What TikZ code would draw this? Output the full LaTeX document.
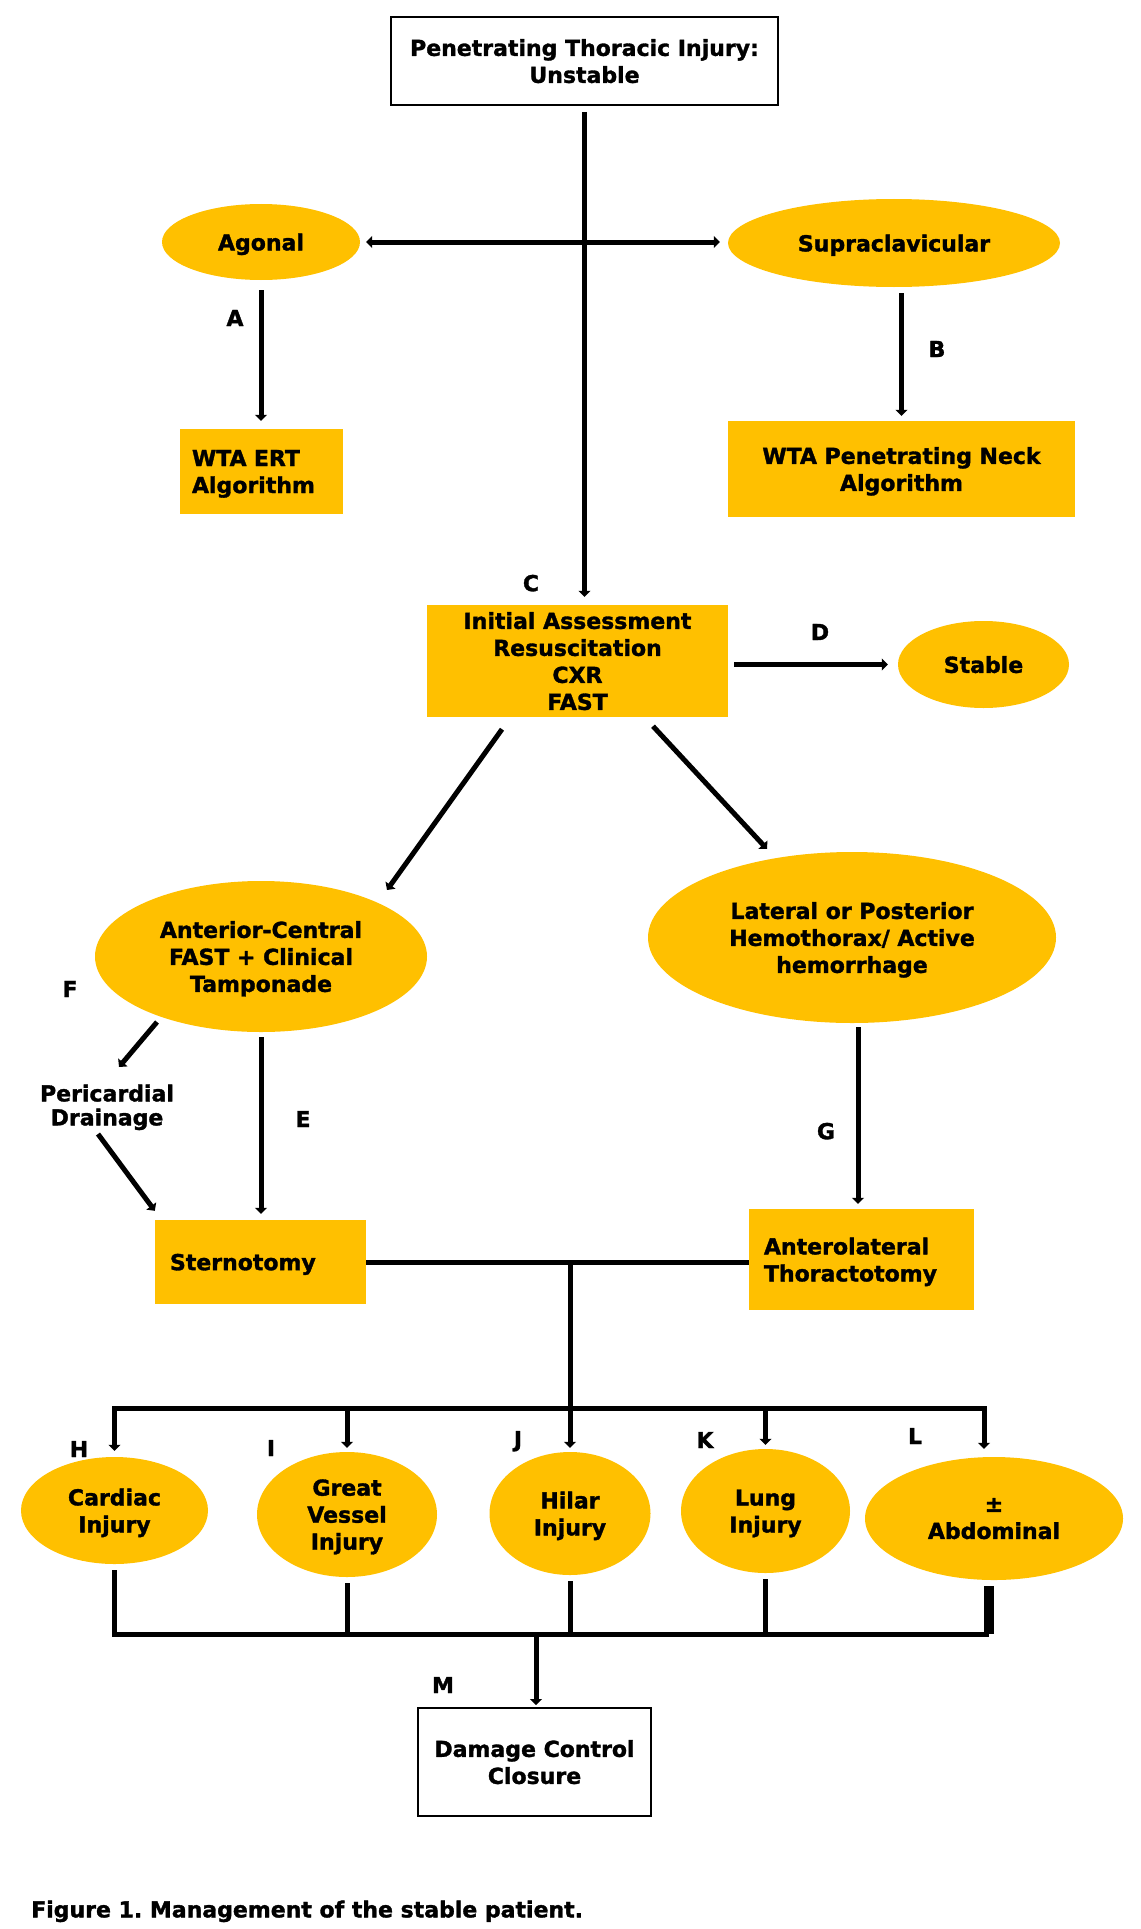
\documentclass[tikz,border=0pt]{standalone}
\usepackage{fontspec}
\setmainfont{DejaVu Sans}[BoldFeatures={FakeBold=1.5}]
\usetikzlibrary{positioning, arrows.meta, shapes.geometric, calc}
\definecolor{wtagold}{HTML}{FFC000}
\frenchspacing

\begin{document}
\begin{tikzpicture}[
    x=1pt, y=-1pt,
    every node/.style={font=\fontsize{22}{27}\selectfont\bfseries, inner sep=0pt, text depth=0pt},
    whitebox/.style={draw, line width=2pt, fill=white, align=center},
    goldbox/.style={fill=wtagold, align=center},
    leftbox/.style={fill=wtagold, align=left},
    goldoval/.style={ellipse, fill=wtagold, align=center},
    conn/.style={line width=5pt},
    >={Triangle[length=6pt,width=12pt]},
  ]
  \useasboundingbox (0,0) rectangle (1140,1929);

  \node[whitebox, minimum width=387pt, minimum height=88pt] (top) at (584.5,61) {Penetrating Thoracic Injury:\\Unstable};
  \node[goldoval, minimum width=198pt, minimum height=76pt] (agonal) at (261,242) {Agonal};
  \node[goldoval, minimum width=332pt, minimum height=88pt] (supra) at (894,243) {Supraclavicular};
  \node[leftbox, text width=139pt, inner xsep=12pt, minimum height=85pt, text depth=27pt] (ert) at (261.5,471.5) {WTA ERT\\Algorithm};
  \node[goldbox, minimum width=347pt, minimum height=96pt] (neck) at (901.5,469) {WTA Penetrating Neck\\Algorithm};
  \node[goldbox, minimum width=301pt, minimum height=112pt] (init) at (577.5,661) {Initial Assessment\\Resuscitation\\CXR\\FAST};
  \node[goldoval, minimum width=171pt, minimum height=87pt] (stable) at (983.5,664.5) {Stable};
  \node[goldoval, minimum width=332pt, minimum height=151pt] (antc) at (261,956.5) {Anterior-Central\\FAST + Clinical\\Tamponade};
  \node[goldoval, minimum width=408pt, minimum height=171pt] (lat) at (852,937.5) {Lateral or Posterior\\Hemothorax/ Active\\hemorrhage};
  \node[align=center, font=\fontsize{22}{24}\selectfont\bfseries] (peri) at (107,1105) {Pericardial\\Drainage};
  \node[leftbox, text width=181pt, inner xsep=15pt, minimum height=84pt] (stern) at (260.5,1262) {Sternotomy};
  \node[leftbox, text width=195pt, inner xsep=15pt, minimum height=101pt, text depth=27pt] (antl) at (861.5,1259.5) {Anterolateral\\Thoractotomy};

  % injury ovals
  \node[goldoval, minimum width=187pt, minimum height=107pt] (cardiac) at (114.5,1510.5) {Cardiac\\Injury};
  \node[goldoval, minimum width=180pt, minimum height=125pt] (vessel) at (347,1514.5) {Great\\Vessel\\Injury};
  \node[goldoval, minimum width=161pt, minimum height=123pt] (hilar) at (570,1513.5) {Hilar\\Injury};
  \node[goldoval, minimum width=169pt, minimum height=124pt] (lung) at (765.5,1511) {Lung\\Injury};
  \node[goldoval, minimum width=258pt, minimum height=123pt] (abdo) at (994,1518.5) {±\\Abdominal};

  \node[whitebox, minimum width=233pt, minimum height=108pt] (dcc) at (534.5,1762) {Damage Control\\Closure};
  \node[anchor=west] (caption) at (31,1909) {Figure 1. Management of the stable patient.};

  \foreach \t/\x/\y in {A/235/318, B/937/349, C/531/583, D/820/632, E/303/1119, F/70/989, G/826/1131,
                        H/79/1449, I/271/1448, J/518/1439, K/705/1440, L/915/1436, M/443/1685}
    \node (lbl\t) at (\x,\y) {\t};

  \draw[conn, ->, shorten <=6pt, shorten >=8pt] (top.south) -- (top.south |- init.north);
  \draw[conn, <->, shorten <=6pt, shorten >=8pt] (agonal.east) -- (agonal.east -| supra.west);
  \draw[conn, ->, shorten <=10pt, shorten >=8pt] (agonal.south) -- (agonal.south |- ert.north);
  \draw[conn, ->, shorten <=6pt, shorten >=5pt] (supra.south -| neck.north) -- (neck.north);
  \draw[conn, ->, shorten <=6pt, shorten >=10pt] (init.east |- stable.west) -- (stable.west);
  \draw[conn, ->] ($(init.south)+(-75.5,12)$) -- ($(antc.center)+(126,-66.5)$);
  \draw[conn, ->] ($(init.south)+(75.5,9)$) -- ($(lat.center)+(-85,-88.5)$);
  \draw[conn, ->] ($(antc.center)+(-104,65.5)$) -- ($(peri.center)+(12,-38)$);
  \draw[conn, ->] ($(peri.center)+(-9,29)$) -- ($(stern.north west)+(0,-9)$);
  \draw[conn, ->, shorten <=5pt, shorten >=6pt] (antc.south) -- (antc.south |- stern.north);
  \draw[conn, ->, shorten <=4pt, shorten >=5pt] ([xshift=6pt]lat.south) -- ([xshift=6pt]lat.south |- antl.north);

  % to the injuries
  \draw[conn] (stern.east) -- (stern.east -| antl.west);
  \coordinate (split) at (hilar.north |- stern.east);
  \coordinate (bus) at (570,1408);
  \draw[conn, ->, shorten >=4pt] (split) -- (hilar.north);
  \draw[conn, ->, shorten >=6pt] (bus) -| (cardiac.north);
  \draw[conn, ->, shorten >=8pt] (bus) -| ([xshift=-10pt]abdo.north);
  \foreach \n in {vessel,lung}
    \draw[conn, ->, shorten >=4pt] (\n.north |- bus) -- (\n.north);

  % to closure
  \coordinate (join) at (536,1634);
  \draw[conn, shorten <=6pt] (cardiac.south) |- ([xshift=-5pt]abdo.south |- join);
  \foreach \n in {vessel,hilar,lung}
    \draw[conn, shorten <=6pt] (\n.south) -- (\n.south |- join);
  \draw[line width=10pt, shorten <=6pt] ([xshift=-5pt]abdo.south) -- ([xshift=-5pt]abdo.south |- join);
  \draw[conn, ->, shorten >=2pt] (join) -- (join |- dcc.north);
\end{tikzpicture}
\end{document}
